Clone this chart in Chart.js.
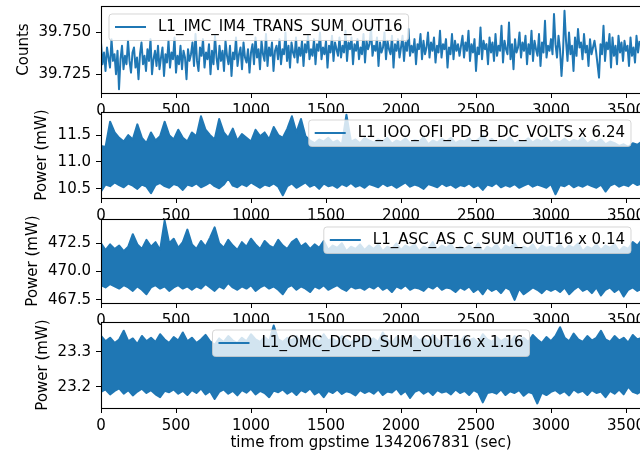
<!DOCTYPE html>
<html>
<head>
<meta charset="utf-8">
<script src="https://cdn.jsdelivr.net/npm/chart.js"></script>
<style>
  html, body { margin: 0; padding: 0; background: #fff; }
  #figure { position: relative; width: 640px; height: 456px; overflow: hidden; }
  #figure canvas { position: absolute; left: 0; top: 0; }
</style>
</head>
<body>
<div id="figure">
  <canvas id="ax0" width="700" height="456"></canvas>
  <canvas id="ax1" width="700" height="456"></canvas>
  <canvas id="ax2" width="700" height="456"></canvas>
  <canvas id="ax3" width="700" height="456"></canvas>
</div>
<script>
// labels and axes
var seriesLabels = ['L1_IMC_IM4_TRANS_SUM_OUT16', 'L1_IOO_OFI_PD_B_DC_VOLTS x 6.24', 'L1_ASC_AS_C_SUM_OUT16 x 0.14', 'L1_OMC_DCPD_SUM_OUT16 x 1.16'];
var yTitles = ['Counts', 'Power (mW)', 'Power (mW)', 'Power (mW)'];
var xTitle = 'time from gpstime 1342067831 (sec)';
var xRange = [0, 3600];
var xTickValues = [0, 500, 1000, 1500, 2000, 2500, 3000, 3500];
var yRanges = [[39.7138, 39.7658], [10.33, 11.93], [467.23, 474.64], [23.139, 23.385]];
var yTickValues = [[39.725, 39.75], [10.5, 11.0, 11.5], [467.5, 470.0, 472.5], [23.2, 23.3]];
var yTickLabels = [['39.725', '39.750'], ['10.5', '11.0', '11.5'], ['467.5', '470.0', '472.5'], ['23.2', '23.3']];

// IMC transmitted sum, one reading every imcStep seconds
var imcStep = 10;
var imcCounts = [
  39.744, 39.731, 39.738, 39.727, 39.741, 39.735, 39.729, 39.746, 39.733, 39.737, 39.725, 39.739, 39.716, 39.734, 39.742, 39.728, 39.736, 39.731, 39.745, 39.733,
  39.726, 39.738, 39.741, 39.729, 39.735, 39.722, 39.737, 39.744, 39.731, 39.736, 39.727, 39.740, 39.733, 39.746, 39.725, 39.734, 39.739, 39.730, 39.742, 39.728,
  39.735, 39.741, 39.724, 39.737, 39.732, 39.745, 39.729, 39.738, 39.734, 39.747, 39.726, 39.736, 39.731, 39.742, 39.728, 39.739, 39.735, 39.722, 39.740, 39.733,
  39.737, 39.744, 39.730, 39.749, 39.733, 39.727, 39.741, 39.736, 39.746, 39.729, 39.738, 39.734, 39.743, 39.725, 39.739, 39.731, 39.748, 39.735, 39.728, 39.742,
  39.733, 39.739, 39.727, 39.745, 39.736, 39.731, 39.742, 39.724, 39.738, 39.734, 39.747, 39.730, 39.737, 39.741, 39.728, 39.744, 39.735, 39.732, 39.740, 39.726,
  39.738, 39.743, 39.731, 39.747, 39.735, 39.740, 39.728, 39.745, 39.737, 39.733, 39.749, 39.730, 39.741, 39.736, 39.744, 39.727, 39.739, 39.742, 39.734, 39.746,
  39.731, 39.740, 39.737, 39.750, 39.733, 39.742, 39.729, 39.744, 39.738, 39.735, 39.747, 39.732, 39.741, 39.736, 39.745, 39.730, 39.743, 39.738, 39.748, 39.734,
  39.740, 39.736, 39.746, 39.731, 39.743, 39.739, 39.750, 39.734, 39.741, 39.737, 39.745, 39.729, 39.742, 39.738, 39.748, 39.733, 39.744, 39.740, 39.736, 39.747,
  39.735, 39.742, 39.738, 39.751, 39.733, 39.744, 39.740, 39.747, 39.731, 39.743, 39.739, 39.746, 39.734, 39.741, 39.737, 39.749, 39.732, 39.745, 39.740, 39.743,
  39.753, 39.736, 39.742, 39.739, 39.747, 39.730, 39.744, 39.738, 39.741, 39.750, 39.734, 39.745, 39.740, 39.737, 39.748, 39.729, 39.743, 39.739, 39.746, 39.735,
  39.741, 39.748, 39.733, 39.744, 39.739, 39.752, 39.736, 39.742, 39.738, 39.746, 39.731, 39.743, 39.740, 39.749, 39.734, 39.745, 39.737, 39.741, 39.750, 39.735,
  39.744, 39.739, 39.747, 39.732, 39.742, 39.738, 39.751, 39.735, 39.743, 39.740, 39.746, 39.729, 39.741, 39.737, 39.749, 39.734, 39.745, 39.739, 39.743, 39.736,
  39.742, 39.748, 39.735, 39.744, 39.739, 39.751, 39.733, 39.743, 39.738, 39.746, 39.727, 39.741, 39.737, 39.753, 39.734, 39.745, 39.740, 39.743, 39.731, 39.747,
  39.738, 39.744, 39.733, 39.749, 39.736, 39.742, 39.739, 39.754, 39.732, 39.745, 39.740, 39.737, 39.756, 39.734, 39.743, 39.728, 39.746, 39.738, 39.741, 39.750,
  39.735, 39.744, 39.739, 39.748, 39.731, 39.743, 39.737, 39.751, 39.733, 39.745, 39.740, 39.736, 39.749, 39.730, 39.744, 39.738, 39.757, 39.735, 39.742, 39.739,
  39.746, 39.737, 39.761, 39.743, 39.735, 39.748, 39.740, 39.724, 39.738, 39.763, 39.745, 39.733, 39.750, 39.737, 39.742, 39.727, 39.747, 39.736, 39.752, 39.741,
  39.744, 39.734, 39.749, 39.738, 39.742, 39.730, 39.746, 39.737, 39.741, 39.745, 39.739, 39.731, 39.723, 39.743, 39.737, 39.754, 39.733, 39.744, 39.740, 39.749,
  39.729, 39.747, 39.736, 39.742, 39.731, 39.748, 39.738, 39.744, 39.733, 39.745, 39.739, 39.742, 39.730, 39.747, 39.736, 39.741, 39.732, 39.748, 39.738, 39.745
];

// the three dense channels: upper and lower edge of the band, one pair every bandStep seconds
var bandStep = 30.3;
var ioUpper = [
  11.30, 11.28, 11.75, 11.55, 11.45, 11.38, 11.50, 11.42, 11.70, 11.45, 11.35, 11.55, 11.40, 11.48, 11.75, 11.50, 11.42, 11.60, 11.45, 11.38,
  11.55, 11.48, 11.85, 11.60, 11.50, 11.42, 11.80, 11.55, 11.45, 11.62, 11.40, 11.52, 11.45, 11.38, 11.60, 11.48, 11.55, 11.42, 11.65, 11.50,
  11.45, 11.62, 11.85, 11.55, 11.80, 11.48, 11.40, 11.35, 11.42, 11.38, 11.45, 11.36, 11.40, 11.32, 11.88, 11.38, 11.42, 11.35, 11.45, 11.40,
  11.36, 11.42, 11.38, 11.45, 11.34, 11.40, 11.37, 11.44, 11.35, 11.41, 11.38, 11.46, 11.33, 11.40, 11.36, 11.43, 11.38, 11.45, 11.35, 11.40,
  11.38, 11.44, 11.36, 11.42, 11.50, 11.37, 11.43, 11.35, 11.41, 11.38, 11.46, 11.34, 11.40, 11.37, 11.44, 11.36, 11.42, 11.38, 11.45, 11.35,
  11.40, 11.37, 11.43, 11.36, 11.41, 11.38, 11.45, 11.34, 11.40, 11.36, 11.42, 11.33, 11.38, 11.35, 11.30, 11.33, 11.28, 11.35, 11.32, 11.38
];
var ioLower = [
  10.45, 10.58, 10.55, 10.62, 10.57, 10.53, 10.60, 10.56, 10.50, 10.58, 10.54, 10.42, 10.57, 10.61, 10.55, 10.52, 10.59, 10.56, 10.48, 10.58,
  10.55, 10.60, 10.53, 10.57, 10.62, 10.55, 10.51, 10.58, 10.70, 10.56, 10.53, 10.59, 10.55, 10.62, 10.57, 10.52, 10.58, 10.55, 10.60, 10.54,
  10.38, 10.55, 10.60, 10.52, 10.57, 10.62, 10.54, 10.58, 10.50, 10.60, 10.55, 10.57, 10.52, 10.59, 10.55, 10.61, 10.54, 10.57, 10.52, 10.59,
  10.56, 10.53, 10.60, 10.55, 10.58, 10.52, 10.57, 10.62, 10.54, 10.58, 10.55, 10.50, 10.59, 10.56, 10.53, 10.60, 10.55, 10.58, 10.52, 10.57,
  10.55, 10.60, 10.53, 10.57, 10.48, 10.58, 10.55, 10.61, 10.53, 10.57, 10.54, 10.59, 10.52, 10.56, 10.60, 10.54, 10.58, 10.55, 10.52, 10.59,
  10.40, 10.57, 10.55, 10.60, 10.53, 10.57, 10.54, 10.59, 10.55, 10.52, 10.58, 10.45, 10.56, 10.60, 10.54, 10.58, 10.55, 10.62, 10.57, 10.60
];
var ascUpper = [
  472.5, 471.9, 472.4, 472.0, 472.3, 471.8, 472.2, 473.3, 472.4, 472.0, 472.8, 472.2, 472.6, 471.9, 474.5, 472.5, 472.9, 472.1, 472.6, 473.7,
  472.4, 472.0, 472.7, 472.2, 473.0, 473.9, 472.5, 472.1, 472.8, 472.3, 471.9, 472.6, 472.2, 472.9, 472.4, 472.0, 472.7, 472.3, 472.1, 472.8,
  472.3, 472.0, 472.6, 472.9, 472.2, 472.5, 472.0, 472.4, 472.1, 472.7, 471.9, 472.3, 472.1, 472.5, 471.8, 472.2, 472.0, 472.4, 471.9, 472.3,
  472.0, 472.4, 471.8, 472.2, 472.0, 472.5, 471.9, 472.3, 472.1, 472.4, 471.8, 472.2, 472.0, 472.6, 471.9, 472.3, 472.1, 472.4, 471.8, 472.2,
  472.0, 472.3, 471.9, 472.5, 471.7, 472.2, 472.0, 472.4, 471.8, 472.3, 472.1, 472.5, 471.9, 472.2, 472.0, 472.4, 471.8, 472.3, 472.1, 472.2,
  472.0, 472.4, 471.9, 472.3, 472.1, 472.5, 471.8, 472.2, 472.0, 472.4, 471.9, 472.3, 472.1, 472.4, 471.8, 472.2, 472.0, 472.6, 472.3, 472.8
];
var ascLower = [
  468.8, 468.6, 468.9, 468.7, 468.5, 468.8, 468.6, 468.3, 468.7, 468.4, 468.0, 468.6, 468.8, 468.5, 468.7, 468.3, 468.6, 468.8, 468.5, 468.7,
  468.4, 468.7, 468.5, 468.9, 468.6, 468.3, 468.7, 468.5, 469.0, 468.6, 468.4, 468.7, 468.5, 468.8, 468.3, 468.6, 468.8, 468.5, 468.7, 468.4,
  468.0, 468.6, 468.8, 468.4, 468.7, 468.5, 468.2, 468.7, 468.5, 468.8, 468.4, 468.6, 468.8, 468.5, 468.3, 468.7, 468.5, 468.6, 468.4, 468.7,
  468.5, 468.8, 468.4, 468.6, 468.2, 468.7, 468.5, 468.8, 468.4, 468.6, 468.5, 468.3, 468.7, 468.5, 468.8, 468.4, 468.6, 468.5, 468.2, 468.6,
  468.4, 468.7, 468.2, 468.5, 468.0, 468.6, 468.3, 468.5, 468.1, 468.6, 468.4, 467.5, 468.5, 468.0, 468.3, 468.6, 468.4, 468.1, 468.5, 468.3,
  468.5, 468.2, 468.6, 468.0, 468.4, 468.7, 468.3, 468.5, 468.1, 468.6, 467.9, 468.4, 468.6, 468.2, 468.5, 467.8, 468.4, 468.6, 468.3, 468.5
];
var omcUpper = [
  23.345, 23.330, 23.340, 23.325, 23.335, 23.360, 23.330, 23.338, 23.322, 23.345, 23.330, 23.340, 23.328, 23.350, 23.335, 23.325, 23.342, 23.332, 23.355, 23.330,
  23.340, 23.325, 23.335, 23.348, 23.330, 23.320, 23.338, 23.328, 23.345, 23.332, 23.325, 23.340, 23.330, 23.350, 23.335, 23.328, 23.342, 23.330, 23.375, 23.335,
  23.328, 23.340, 23.332, 23.345, 23.325, 23.338, 23.330, 23.342, 23.326, 23.350, 23.332, 23.338, 23.328, 23.345, 23.335, 23.325, 23.340, 23.330, 23.345, 23.332,
  23.338, 23.328, 23.355, 23.335, 23.325, 23.342, 23.330, 23.338, 23.326, 23.345, 23.332, 23.340, 23.328, 23.348, 23.335, 23.325, 23.342, 23.330, 23.338, 23.328,
  23.345, 23.332, 23.338, 23.325, 23.350, 23.335, 23.328, 23.342, 23.330, 23.338, 23.326, 23.345, 23.333, 23.340, 23.328, 23.348, 23.335, 23.325, 23.342, 23.330,
  23.345, 23.370, 23.340, 23.330, 23.352, 23.335, 23.328, 23.345, 23.332, 23.340, 23.360, 23.335, 23.328, 23.345, 23.332, 23.340, 23.326, 23.348, 23.335, 23.340
];
var omcLower = [
  23.185, 23.192, 23.178, 23.188, 23.195, 23.180, 23.190, 23.175, 23.186, 23.194, 23.182, 23.190, 23.178, 23.170, 23.188, 23.184, 23.192, 23.180, 23.188, 23.176,
  23.190, 23.182, 23.195, 23.178, 23.187, 23.165, 23.185, 23.192, 23.180, 23.188, 23.175, 23.190, 23.183, 23.194, 23.178, 23.188, 23.182, 23.170, 23.189, 23.184,
  23.192, 23.180, 23.188, 23.176, 23.190, 23.184, 23.195, 23.178, 23.186, 23.170, 23.188, 23.182, 23.192, 23.179, 23.187, 23.183, 23.175, 23.190, 23.182, 23.188,
  23.180, 23.192, 23.176, 23.186, 23.183, 23.195, 23.178, 23.188, 23.168, 23.185, 23.191, 23.180, 23.188, 23.176, 23.190, 23.183, 23.187, 23.178, 23.192, 23.182,
  23.188, 23.176, 23.190, 23.183, 23.155, 23.182, 23.185, 23.180, 23.192, 23.176, 23.187, 23.182, 23.190, 23.174, 23.185, 23.180, 23.152, 23.183, 23.176, 23.185,
  23.190, 23.180, 23.187, 23.175, 23.192, 23.183, 23.188, 23.176, 23.190, 23.182, 23.186, 23.170, 23.188, 23.180, 23.192, 23.178, 23.200, 23.185, 23.180, 23.188
];

// figure geometry (matplotlib-like stacked axes)
var CW = 700, CH = 456;
var plotLeft = 101, plotRight = 641;
var panels = [
  { top: 6,   bottom: 93,  axisH: 30, titleX: 24,   legend: 'left' },
  { top: 112, bottom: 198, axisH: 30, titleX: 42.5, legend: 'right' },
  { top: 219, bottom: 303, axisH: 30, titleX: 33,   legend: 'right' },
  { top: 322, bottom: 408, axisH: 48, titleX: 43,   legend: 'center' }
];
var blue = '#1f77b4';
var textFont = { family: 'DejaVu Sans', size: 15 };

function toPoints(values, step) {
  return values.map(function(v, i) { return { x: i * step, y: v }; });
}

// white axes patch, black frame and a matplotlib style legend box
var axesDecor = {
  id: 'axesDecor',
  beforeDraw: function(chart) {
    var a = chart.chartArea, ctx = chart.ctx;
    ctx.save();
    ctx.fillStyle = '#fff';
    ctx.fillRect(a.left, a.top, a.right - a.left, a.bottom - a.top);
    ctx.restore();
  },
  afterDatasetsDraw: function(chart, args, opts) {
    var a = chart.chartArea, ctx = chart.ctx;
    ctx.save();
    ctx.strokeStyle = '#000';
    ctx.lineWidth = 1.1;
    ctx.strokeRect(a.left + 0.5, a.top + 0.5, a.right - a.left, a.bottom - a.top);

    ctx.font = textFont.size + 'px "' + textFont.family + '"';
    var tw = ctx.measureText(opts.label).width;
    var bw = 49 + tw + 6, bh = 26.5, r = 3;
    var bx;
    if (opts.align === 'left') bx = a.left + 8;
    else if (opts.align === 'right') bx = a.right - 10 - bw;
    else bx = (a.left + a.right) / 2 - bw / 2;
    var by = a.top + 8;

    ctx.beginPath();
    ctx.moveTo(bx + r, by);
    ctx.lineTo(bx + bw - r, by);
    ctx.arcTo(bx + bw, by, bx + bw, by + r, r);
    ctx.lineTo(bx + bw, by + bh - r);
    ctx.arcTo(bx + bw, by + bh, bx + bw - r, by + bh, r);
    ctx.lineTo(bx + r, by + bh);
    ctx.arcTo(bx, by + bh, bx, by + bh - r, r);
    ctx.lineTo(bx, by + r);
    ctx.arcTo(bx, by, bx + r, by, r);
    ctx.closePath();
    ctx.fillStyle = 'rgba(255,255,255,0.8)';
    ctx.fill();
    ctx.strokeStyle = 'rgba(204,204,204,0.8)';
    ctx.lineWidth = 1;
    ctx.stroke();

    ctx.beginPath();
    ctx.moveTo(bx + 6, by + 13);
    ctx.lineTo(bx + 37, by + 13);
    ctx.strokeStyle = blue;
    ctx.lineWidth = 2;
    ctx.stroke();

    ctx.fillStyle = '#000';
    ctx.textBaseline = 'middle';
    ctx.textAlign = 'left';
    ctx.fillText(opts.label, bx + 49, by + 13.5);
    ctx.restore();
  }
};

function makeChart(i, datasets) {
  var p = panels[i];
  return new Chart(document.getElementById('ax' + i), {
    type: 'line',
    data: { datasets: datasets },
    options: {
      responsive: false,
      animation: false,
      devicePixelRatio: 1,
      events: [],
      layout: {
        padding: { left: 0, right: CW - plotRight, top: p.top, bottom: CH - p.bottom - p.axisH }
      },
      elements: {
        point: { radius: 0 },
        line: { borderWidth: 2, tension: 0, borderJoinStyle: 'round' }
      },
      plugins: {
        legend: { display: false },
        tooltip: { enabled: false },
        axesDecor: { label: seriesLabels[i], align: p.legend }
      },
      scales: {
        x: {
          type: 'linear',
          min: xRange[0],
          max: xRange[1],
          border: { display: false },
          grid: { drawOnChartArea: false, drawTicks: true, tickLength: 5, color: '#000' },
          ticks: {
            font: textFont, color: '#000', padding: 4, autoSkip: false, maxRotation: 0,
            callback: function(v) { return String(v); }
          },
          afterBuildTicks: function(s) {
            s.ticks = xTickValues.map(function(v) { return { value: v }; });
          },
          afterFit: function(s) {
            s.height = p.axisH;
            s.paddingLeft = 0; s.paddingRight = 0; s.paddingTop = 0; s.paddingBottom = 0;
          },
          title: {
            display: i === 3, text: xTitle, font: textFont, color: '#000',
            padding: { top: 0, bottom: 4 }
          }
        },
        y: {
          type: 'linear',
          min: yRanges[i][0],
          max: yRanges[i][1],
          border: { display: false },
          grid: { drawOnChartArea: false, drawTicks: true, tickLength: 5, color: '#000' },
          ticks: {
            font: textFont, color: '#000', padding: 5,
            callback: function(v, idx) { return yTickLabels[i][idx]; }
          },
          afterBuildTicks: function(s) {
            s.ticks = yTickValues[i].map(function(v) { return { value: v }; });
          },
          afterFit: function(s) {
            s.width = plotLeft;
            s.paddingLeft = 0; s.paddingRight = 0; s.paddingTop = 0; s.paddingBottom = 0;
          },
          title: {
            display: true, text: yTitles[i], font: textFont, color: '#000',
            padding: { top: p.titleX - textFont.size * 0.6, bottom: 0 }
          }
        }
      }
    },
    plugins: [axesDecor]
  });
}

function band(upper, lower) {
  return [
    { data: toPoints(upper, bandStep), borderColor: blue, backgroundColor: blue, fill: '+1' },
    { data: toPoints(lower, bandStep), borderColor: blue, backgroundColor: blue, fill: false }
  ];
}

makeChart(0, [{ data: toPoints(imcCounts, imcStep), borderColor: blue, backgroundColor: blue, fill: false }]);
makeChart(1, band(ioUpper, ioLower));
makeChart(2, band(ascUpper, ascLower));
makeChart(3, band(omcUpper, omcLower));
</script>
</body>
</html>
